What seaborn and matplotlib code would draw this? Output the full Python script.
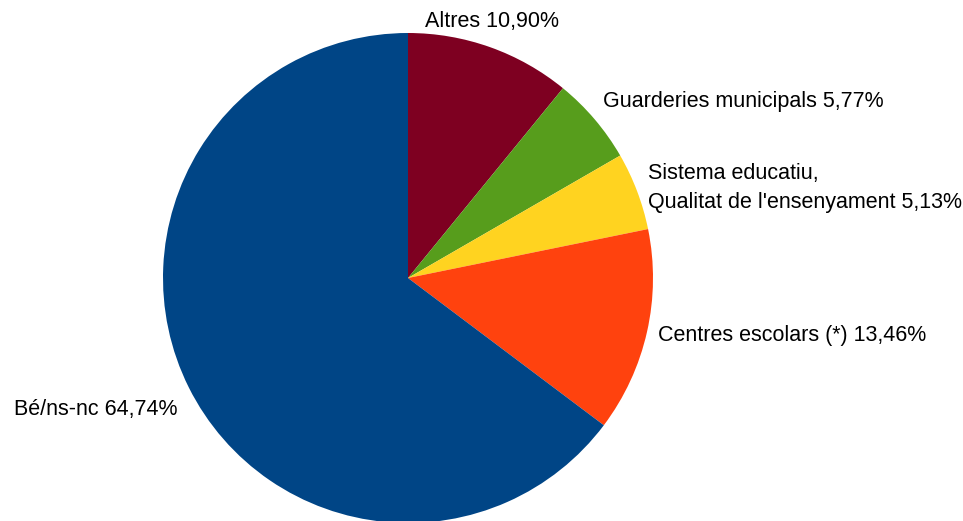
import matplotlib
matplotlib.use("Agg")
import matplotlib.pyplot as plt
import seaborn as sns

categories = ["Altres", "Guarderies municipals", "Sistema educatiu,\nQualitat de l'ensenyament",
              "Centres escolars (*)", "Bé/ns-nc"]
values = [10.90, 5.77, 5.13, 13.46, 64.74]
label_texts = ["Altres 10,90%", "Guarderies municipals 5,77%",
               "Sistema educatiu,\nQualitat de l'ensenyament 5,13%",
               "Centres escolars (*) 13,46%", "Bé/ns-nc 64,74%"]
colors = ["#7E0021", "#579D1C", "#FFD320", "#FF420E", "#004586"]

sns.set_theme(style="white")
plt.rcParams['font.family'] = ['Liberation Sans', 'DejaVu Sans']

W, H = 963, 521
fig = plt.figure(figsize=(W / 100, H / 100), dpi=100)
ax = fig.add_axes([0, 0, 1, 1])
ax.pie(values, colors=sns.color_palette(colors), startangle=90, counterclock=False,
       center=(408, H - 278), radius=245, frame=True,
       wedgeprops=dict(linewidth=0))
ax.set_xlim(0, W)
ax.set_ylim(0, H)
ax.set_aspect('equal')
ax.axis('off')

label_pos = [(425, 22, 'left'), (603, 101, 'left'), (648, 188, 'left'),
             (658, 336, 'left'), (177, 410, 'right')]
for txt, (x, y, ha) in zip(label_texts, label_pos):
    ax.text(x, H - y, txt, ha=ha, va='center', fontsize=15.5, color='black',
            linespacing=1.45)

fig.savefig("out.png", dpi=100, facecolor='white')
